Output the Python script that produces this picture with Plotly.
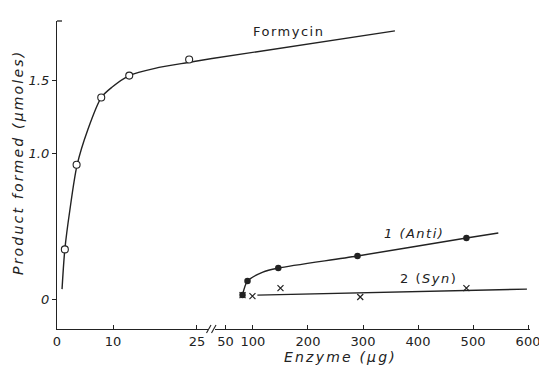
import plotly.graph_objects as go

# ---- data ----
formycin_x = [1.4, 3.5, 7.9, 12.9, 23.6]
formycin_y = [0.34, 0.92, 1.38, 1.53, 1.64]
formycin_curve_x = [0.9, 1.4, 2.3, 3.6, 5.5, 7.9, 9.8, 12.9, 17.5, 23.4, 27.7]
formycin_curve_y = [0.068, 0.34, 0.61, 0.92, 1.16, 1.38, 1.45, 1.53, 1.58, 1.62, 1.647]
formycin_right_x = [25.5, 358]
formycin_right_y = [1.647, 1.836]

anti_x = [81, 90, 146, 290, 488]
anti_y = [0.027, 0.123, 0.212, 0.295, 0.418]
anti_curve_x = [81, 90, 118, 146, 290, 488, 546]
anti_curve_y = [0.027, 0.123, 0.185, 0.212, 0.295, 0.418, 0.452]

syn_x = [81, 99, 150, 295, 488]
syn_y = [0.027, 0.020, 0.075, 0.014, 0.075]
syn_line_x = [108, 598]
syn_line_y = [0.027, 0.068]

left_ticks = [0, 10, 25]
right_ticks = [50, 100, 200, 300, 400, 500, 600]
y_ticks = [0, 1.0, 1.5]
y_tick_labels = ["0", "1.0", "1.5"]

INK = "#222222"
FONT = "DejaVu Sans"

fig = go.Figure()

# Formycin
fig.add_trace(go.Scatter(x=formycin_curve_x, y=formycin_curve_y, mode="lines",
                         line=dict(color=INK, width=1.4, shape="spline", smoothing=0.8),
                         xaxis="x", yaxis="y", hoverinfo="skip"))
fig.add_trace(go.Scatter(x=formycin_right_x, y=formycin_right_y, mode="lines",
                         line=dict(color=INK, width=1.4),
                         xaxis="x2", yaxis="y", hoverinfo="skip"))
fig.add_trace(go.Scatter(x=formycin_x, y=formycin_y, mode="markers",
                         marker=dict(symbol="circle", size=7, color="white",
                                     line=dict(color=INK, width=1.1)),
                         xaxis="x", yaxis="y"))

# Anti
fig.add_trace(go.Scatter(x=anti_curve_x, y=anti_curve_y, mode="lines",
                         line=dict(color=INK, width=1.4, shape="spline", smoothing=0.8),
                         xaxis="x2", yaxis="y", hoverinfo="skip"))
fig.add_trace(go.Scatter(x=anti_x, y=anti_y, mode="markers",
                         marker=dict(symbol="circle", size=6.5, color=INK),
                         xaxis="x2", yaxis="y"))

# Syn
fig.add_trace(go.Scatter(x=syn_line_x, y=syn_line_y, mode="lines",
                         line=dict(color=INK, width=1.4),
                         xaxis="x2", yaxis="y", hoverinfo="skip"))
fig.add_trace(go.Scatter(x=syn_x, y=syn_y, mode="markers",
                         marker=dict(symbol="x-thin", size=6,
                                     line=dict(color=INK, width=1.2)),
                         xaxis="x2", yaxis="y"))

split = 0.3277

common_x = dict(showline=True, linecolor=INK, linewidth=1.3, ticks="inside",
                ticklen=4, tickcolor=INK, tickwidth=1.2, showgrid=False,
                zeroline=False, tickfont=dict(family=FONT, size=13, color=INK),
                ticklabeloverflow="allow", automargin=False, anchor="y")

fig.update_layout(
    width=539, height=367,
    margin=dict(l=57, r=9, t=21, b=38, autoexpand=False),
    paper_bgcolor="white", plot_bgcolor="white",
    showlegend=False,
    xaxis=dict(domain=[0, split], range=[0, 27.68], tickvals=left_ticks,
               **common_x),
    xaxis2=dict(domain=[split, 1], range=[25.5, 603.6], tickvals=right_ticks,
                **common_x),
    yaxis=dict(range=[-0.205, 1.904], tickvals=y_ticks, ticktext=y_tick_labels,
               showline=True, linecolor=INK, linewidth=1.3, ticks="outside",
               ticklen=4, tickcolor=INK, tickwidth=1.2, showgrid=False,
               zeroline=False, anchor="x", automargin=False,
               tickfont=dict(family=FONT, size=13, color=INK, style="italic")),
)

def px_x(p):
    return (p - 57) / 473.0

def px_y(p):
    return (329 - p) / 308.0

# axis break: gap in axis line + two slashes
fig.add_shape(type="rect", xref="paper", yref="paper",
              x0=px_x(208), x1=px_x(215), y0=px_y(332), y1=px_y(326),
              fillcolor="white", line=dict(width=0), layer="above")
for x0 in (206.5, 211.5):
    fig.add_shape(type="line", xref="paper", yref="paper",
                  x0=px_x(x0), y0=px_y(333), x1=px_x(x0 + 4.5), y1=px_y(325),
                  line=dict(color=INK, width=1.1), layer="above")
# small cap at top of the y axis
fig.add_shape(type="line", xref="paper", yref="paper",
              x0=px_x(57), y0=1, x1=px_x(62), y1=1,
              line=dict(color=INK, width=1.3), layer="above")

def label(text, x, y, size=13, angle=0, spacing=1.5):
    fig.add_annotation(text=f'<span style="letter-spacing:{spacing}px">{text}</span>',
                       xref="paper", yref="paper",
                       x=px_x(x), y=px_y(y), xanchor="center", yanchor="middle",
                       showarrow=False, textangle=angle,
                       font=dict(family=FONT, size=size, color=INK))

label("Formycin", 288, 32)
label("<i>1 (Anti)</i>", 414, 234)
label("2 (<i>Syn</i>)", 428, 278)
label("<i>Enzyme (μg)</i>", 340, 357, size=14, spacing=2.2)
label("<i>Product formed (μmoles)</i>", 18, 163, size=14, angle=-90, spacing=2.2)

fig.write_html("out.html",
               config={"displayModeBar": False},
               post_script="document.body.style.margin='0';document.body.style.padding='0';")
